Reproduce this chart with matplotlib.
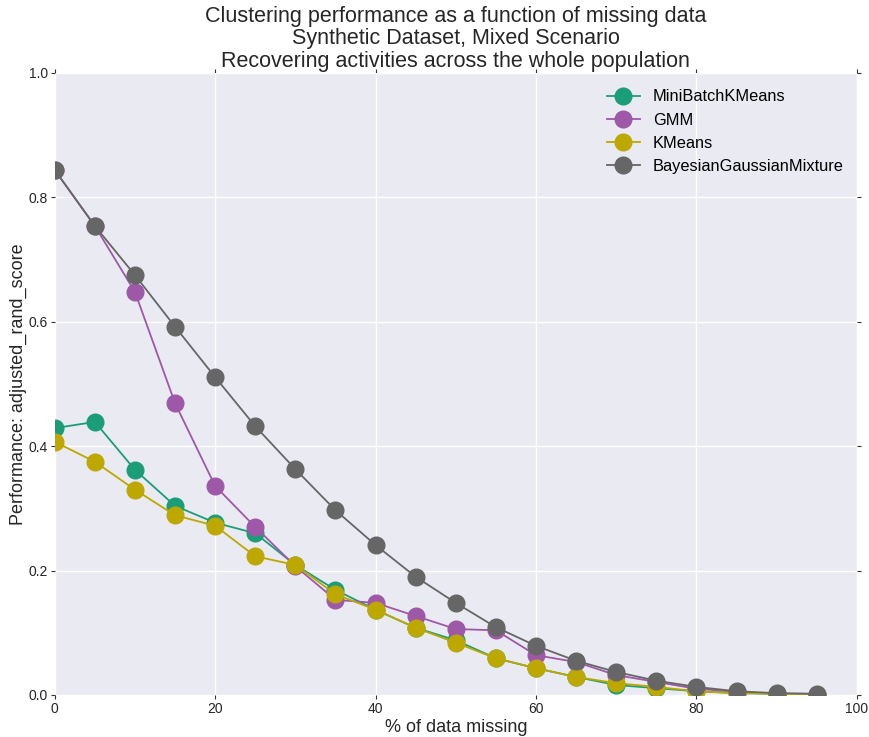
import numpy as np
import matplotlib
matplotlib.use("Agg")
import matplotlib.pyplot as plt

missing = [0, 5, 10, 15, 20, 25, 30, 35, 40, 45, 50, 55, 60, 65, 70, 75, 80, 85, 90, 95]

minibatch = [0.429, 0.439, 0.362, 0.304, 0.277, 0.260, 0.209, 0.169, 0.137, 0.108,
             0.088, 0.059, 0.043, 0.029, 0.016, 0.011, 0.006, 0.003, 0.002, 0.0]
gmm = [0.844, 0.754, 0.648, 0.469, 0.336, 0.270, 0.207, 0.153, 0.148, 0.127,
       0.106, 0.104, 0.064, 0.053, 0.032, 0.021, 0.010, 0.005, 0.002, 0.0]
kmeans = [0.407, 0.375, 0.330, 0.289, 0.272, 0.223, 0.209, 0.162, 0.137, 0.108,
          0.084, 0.059, 0.043, 0.029, 0.019, 0.013, 0.006, 0.003, 0.002, 0.0]
bayes = [0.844, 0.754, 0.675, 0.592, 0.511, 0.432, 0.363, 0.297, 0.241, 0.190,
         0.148, 0.109, 0.079, 0.055, 0.037, 0.023, 0.013, 0.006, 0.003, 0.002]

series = [("MiniBatchKMeans", minibatch, "#1b9e77"),
          ("GMM", gmm, "#9e58a8"),
          ("KMeans", kmeans, "#bda800"),
          ("BayesianGaussianMixture", bayes, "#666666")]

plt.rcParams['font.family'] = ['Liberation Sans', 'DejaVu Sans']

fig = plt.figure(figsize=(8.69, 7.37), dpi=100)
ax = fig.add_axes([0.063, 0.057, 0.923, 0.844])
ax.set_facecolor('#EAEAF2')
for s in ax.spines.values():
    s.set_visible(False)
ax.grid(True, color='white', linewidth=1.0)
ax.set_axisbelow(True)

for name, vals, col in series:
    ax.plot(missing, vals, marker='o', markersize=12, linewidth=1.3,
            color=col, label=name)

ax.set_xlim(0, 100)
ax.set_ylim(0, 1.0)
ax.set_xticks([0, 20, 40, 60, 80, 100])
ax.set_yticks([0.0, 0.2, 0.4, 0.6, 0.8, 1.0])
ax.tick_params(axis='both', labelsize=10, length=3, pad=2, color='#333333',
               labelcolor='#262626', top=True, right=True)

ax.set_xlabel('% of data missing', fontsize=13, color='#262626', labelpad=2)
ax.set_ylabel('Performance: adjusted_rand_score', fontsize=13, color='#262626',
              labelpad=1)
ax.set_title('Clustering performance as a function of missing data\n'
             'Synthetic Dataset, Mixed Scenario\n'
             'Recovering activities across the whole population',
             fontsize=15.5, color='#262626', linespacing=1.12, pad=4)

ax.legend(loc='upper right', bbox_to_anchor=(1.004, 1.0), frameon=False,
          fontsize=11.8, borderaxespad=0.6)

fig.savefig('out.png', dpi=100)
